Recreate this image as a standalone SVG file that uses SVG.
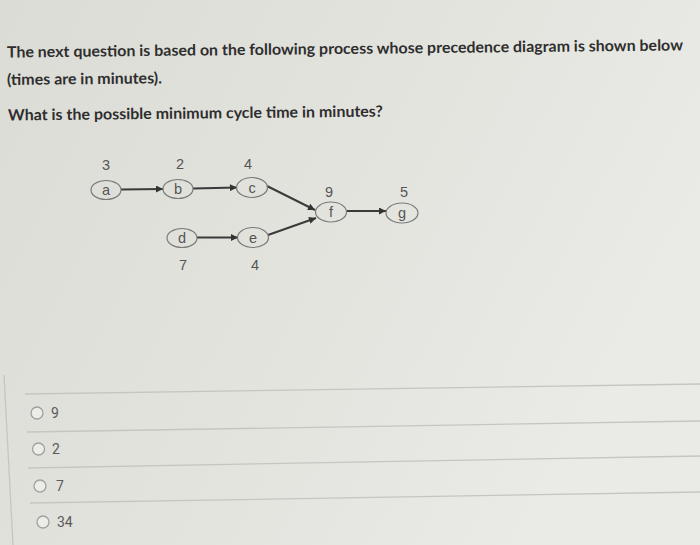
<svg xmlns="http://www.w3.org/2000/svg" width="700" height="545" viewBox="0 0 700 545">
<defs>
<linearGradient id="bg" x1="0" y1="0" x2="1" y2="0.4">
<stop offset="0" stop-color="#dcdcd6"/>
<stop offset="0.6" stop-color="#e4e4df"/>
<stop offset="1" stop-color="#eaeae6"/>
</linearGradient>
<marker id="arr" viewBox="0 0 10 10" refX="10" refY="5" markerWidth="8" markerHeight="7" markerUnits="userSpaceOnUse" orient="auto">
<path d="M0,0 L10,5 L0,10 z" fill="#333"/>
</marker>
<style>
.q{font-family:Lato,"Open Sans","Liberation Sans",sans-serif;font-size:15.5px;fill:#2e2e2e;font-weight:bold}
.n{fill:none;stroke:#7a7a7a;stroke-width:1.2}
.lt{font-family:"Liberation Sans",Arial,sans-serif;font-size:14.5px;fill:#555;text-anchor:middle}
.tm{font-family:"Liberation Sans",Arial,sans-serif;font-size:14.5px;fill:#555;text-anchor:middle}
.c{stroke:#3a3a3a;stroke-width:2;fill:none;marker-end:url(#arr)}
.sep{stroke:#c6c6c1;stroke-width:1.3}
.rb{fill:#ecece9;stroke:#a0a0a0;stroke-width:1.3}
.ot{font-family:Roboto,"Liberation Sans",sans-serif;font-size:14px;fill:#5a5a5a}
</style>
</defs>
<rect x="0" y="0" width="700" height="545" fill="url(#bg)"/>

<g id="question">
<text class="q" x="7" y="57.5" textLength="676" lengthAdjust="spacingAndGlyphs" transform="rotate(-0.6 7 57.5)">The next question is based on the following process whose precedence diagram is shown below</text>
<text class="q" x="7" y="85" textLength="155" lengthAdjust="spacingAndGlyphs" transform="rotate(-0.6 7 85)">(times are in minutes).</text>
<text class="q" x="8" y="120.5" textLength="375" lengthAdjust="spacingAndGlyphs" transform="rotate(-0.6 8 120.5)">What is the possible minimum cycle time in minutes?</text>
</g>

<g id="connectors">
<line class="c" x1="121" y1="189.5" x2="163" y2="189"/>
<line class="c" x1="193" y1="188.5" x2="237" y2="187.5"/>
<line class="c" x1="267" y1="186" x2="315" y2="210"/>
<line class="c" x1="197" y1="237.5" x2="238" y2="237.5"/>
<line class="c" x1="268" y1="235" x2="316" y2="218"/>
<line class="c" x1="347" y1="211" x2="386" y2="211"/>
</g>

<g id="node-a">
<ellipse class="n" cx="106" cy="190" rx="15" ry="9.5"/>
<text class="lt" x="106" y="195">a</text>
<text class="tm" x="106" y="170">3</text>
</g>
<g id="node-b">
<ellipse class="n" cx="178" cy="189" rx="15" ry="9.5"/>
<text class="lt" x="178" y="194">b</text>
<text class="tm" x="180" y="169">2</text>
</g>
<g id="node-c">
<ellipse class="n" cx="252" cy="187.5" rx="15.5" ry="10"/>
<text class="lt" x="252" y="192.5">c</text>
<text class="tm" x="248" y="169">4</text>
</g>
<g id="node-d">
<ellipse class="n" cx="182" cy="238" rx="15" ry="9.5"/>
<text class="lt" x="182" y="243">d</text>
<text class="tm" x="183" y="270">7</text>
</g>
<g id="node-e">
<ellipse class="n" cx="253" cy="237.5" rx="15.5" ry="10"/>
<text class="lt" x="253" y="242.5">e</text>
<text class="tm" x="255" y="270">4</text>
</g>
<g id="node-f">
<ellipse class="n" cx="331" cy="212" rx="15.5" ry="10"/>
<text class="lt" x="331" y="217">f</text>
<text class="tm" x="329" y="197">9</text>
</g>
<g id="node-g">
<ellipse class="n" cx="402" cy="213" rx="16" ry="10"/>
<text class="lt" x="402" y="218">g</text>
<text class="tm" x="404" y="197">5</text>
</g>

<g id="options">
<line class="sep" x1="4" y1="375" x2="13" y2="545" stroke="#9a9a96"/>
<line class="sep" x1="25" y1="394" x2="700" y2="384"/>
<line class="sep" x1="27" y1="432" x2="700" y2="421"/>
<line class="sep" x1="28" y1="468" x2="700" y2="456"/>
<line class="sep" x1="30" y1="503" x2="700" y2="492"/>
<g id="opt-9"><circle class="rb" cx="37" cy="413" r="6"/><text class="ot" x="51" y="418">9</text></g>
<g id="opt-2"><circle class="rb" cx="38.5" cy="449" r="6"/><text class="ot" x="52" y="454">2</text></g>
<g id="opt-7"><circle class="rb" cx="40" cy="486" r="6"/><text class="ot" x="56" y="491">7</text></g>
<g id="opt-34"><circle class="rb" cx="43" cy="522" r="6"/><text class="ot" x="57" y="527">34</text></g>
</g>
</svg>
